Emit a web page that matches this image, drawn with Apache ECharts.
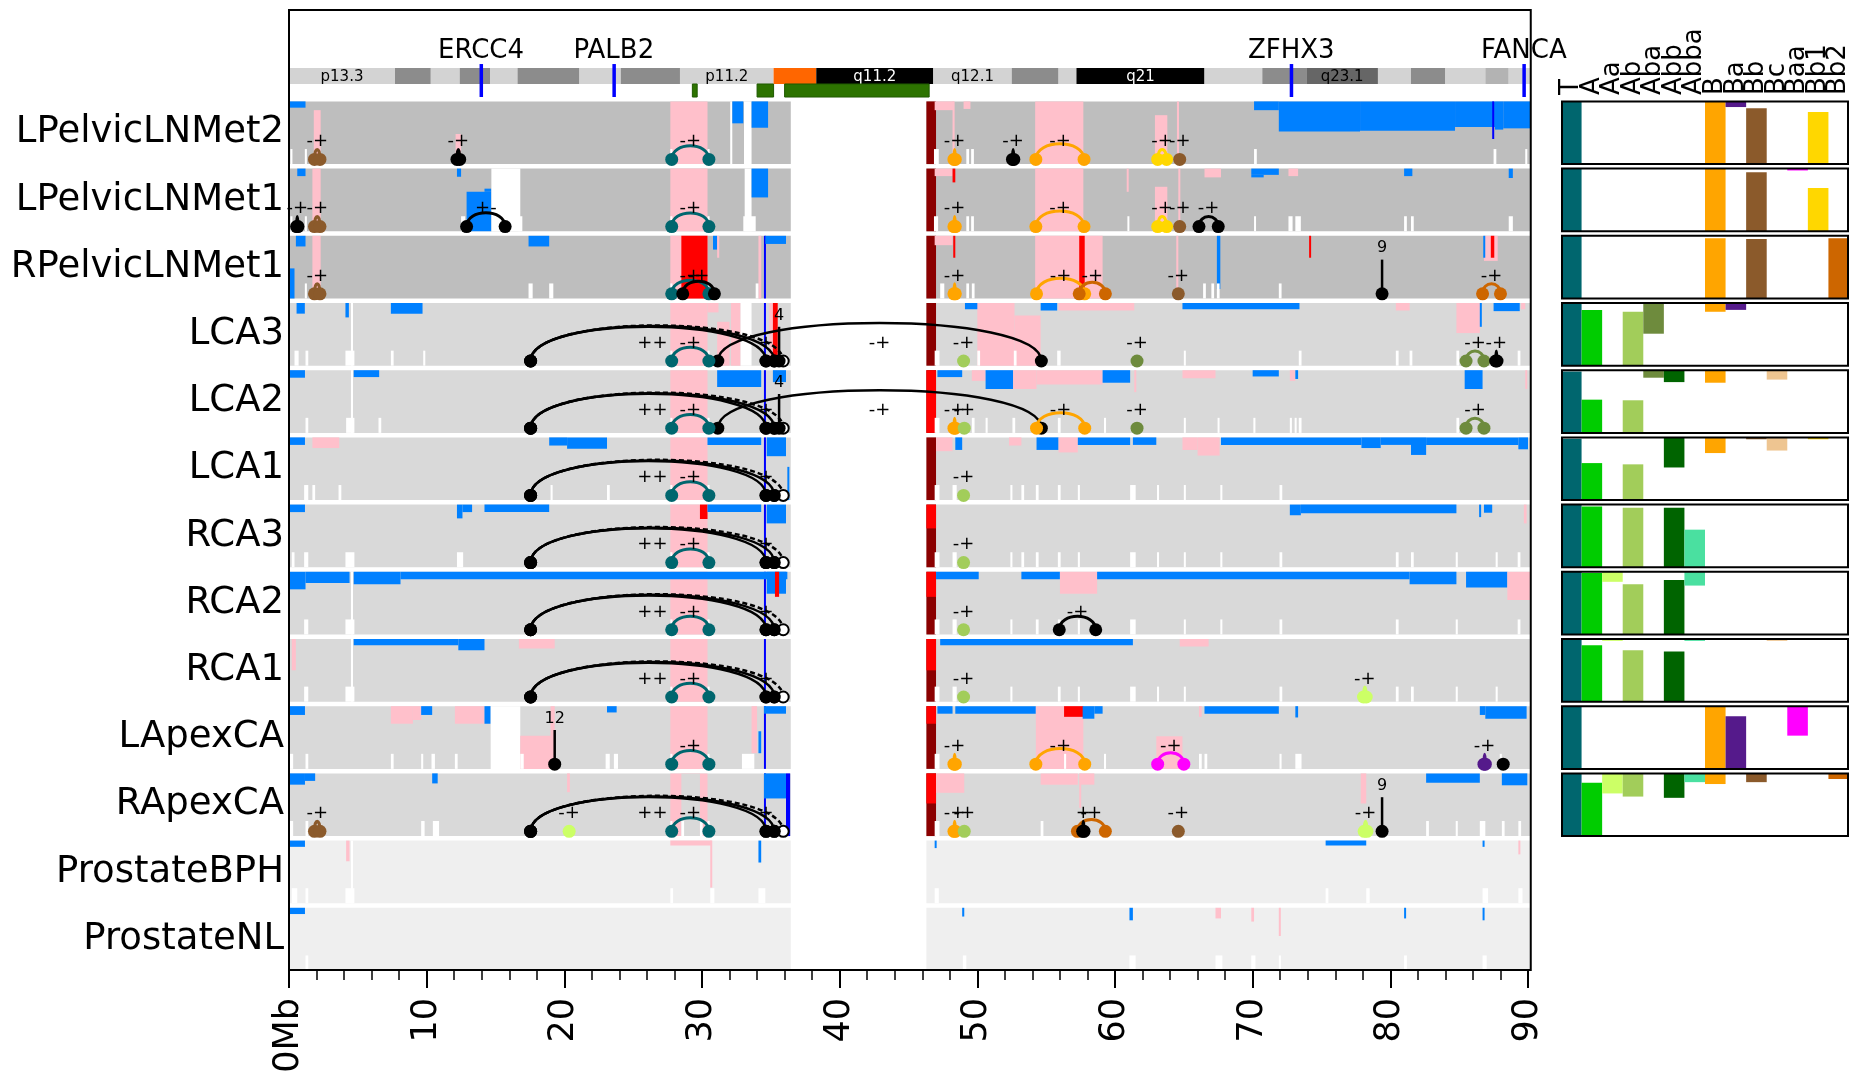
<!DOCTYPE html>
<html><head><meta charset="utf-8">
<script src="https://cdn.jsdelivr.net/npm/echarts/dist/echarts.min.js"></script>
<style>html,body{margin:0;padding:0;background:#fff}#c{width:1850px;height:1080px}</style>
</head><body><div id="c"></div>
<script>
// ---------------- DATA ----------------
const samples = ['LPelvicLNMet2','LPelvicLNMet1','RPelvicLNMet1','LCA3','LCA2','LCA1','RCA3','RCA2','RCA1','LApexCA','RApexCA','ProstateBPH','ProstateNL'];
const xTicks = [0,10,20,30,40,50,60,70,80,90];
// cytobands: [start Mb, end Mb, stain, label]
const chromBands = [
 [0,7.7,'gneg','p13.3'],[7.7,10.3,'gpos50',''],[10.3,12.4,'gneg',''],[12.4,14.6,'gpos50',''],
 [14.6,16.6,'gneg',''],[16.6,21.1,'gpos50',''],[21.1,24.1,'gneg',''],[24.1,28.4,'gpos50',''],
 [28.4,35.2,'gneg','p11.2'],[35.2,38.3,'acen',''],[38.3,46.8,'gvar','q11.2'],[46.8,52.5,'gneg','q12.1'],
 [52.5,55.9,'gpos50',''],[55.9,57.2,'gneg',''],[57.2,66.5,'gpos100','q21'],[66.5,70.7,'gneg',''],
 [70.7,73.9,'gpos50',''],[73.9,79.1,'gpos75','q23.1'],[79.1,81.5,'gneg',''],[81.5,84.0,'gpos50',''],
 [84.0,86.9,'gneg',''],[86.9,88.6,'gpos25',''],[88.6,90.2,'gneg','']
];
const genes = [['ERCC4',13.95],['PALB2',23.6],['ZFHX3',72.8],['FANCA',89.7]];
const greenTracks = [[29.3,29.65],[34.0,35.2],[36.0,46.5]];
const armSpans = [[0,36.45],[46.3,90.2]];
// segments shared by a range of rows: [firstRow,lastRow,start,end,top,bottom,kind]
const sharedSegs = [
 [0,10,27.7,30.4,0,1,'G'],[0,10,46.3,47.0,0,1,'D'],
 [3,4,4.5,4.65,0,1,'W'],[7,8,4.5,4.65,0,1,'W'],[3,10,34.5,34.6,0,1,'B']
];
// copy-number segments: [row,start,end,top,bottom,kind]  L=loss G=gain H=high gain D=deep gain W=no data B=line N=neutral
const segs = [
 [0,0,1.2,0,0.1,'L'],[0,1.8,2.3,0.14,1,'G'],[0,12.1,12.5,0.52,1,'G'],[0,32.05,32.2,0,1,'W'],[0,32.2,33.0,0,0.35,'L'],
 [0,33.05,33.6,0,1,'W'],[0,33.6,34.8,0,0.42,'L'],[0,46.9,48.3,0,0.14,'G'],[0,48.2,48.35,0,1,'G'],[0,49.0,49.5,0,0.12,'G'],
 [0,54.2,57.7,0,1,'G'],[0,62.9,63.8,0.22,1,'G'],[0,64.5,64.65,0,1,'G'],[0,70.1,71.9,0,0.14,'L'],[0,71.9,77.8,0,0.48,'L'],
 [0,77.8,84.7,0,0.47,'L'],[0,84.7,87.6,0,0.41,'L'],[0,87.6,88.2,0,0.45,'L'],[0,88.2,90.2,0,0.43,'L'],[0,87.4,87.45,0,0.6,'B'],
 [1,0.6,1.2,0,0.12,'L'],[1,1.7,2.3,0,1,'G'],[1,12.2,12.5,0,0.13,'L'],[1,12.9,14.7,0.37,1,'L'],[1,14.2,14.7,0.32,0.37,'L'],
 [1,14.7,16.8,0,1,'W'],[1,33.1,33.6,0,1,'W'],[1,33.6,34.8,0,0.46,'L'],[1,46.9,48.2,0,0.12,'G'],[1,48.2,48.4,0,0.22,'H'],
 [1,54.2,57.7,0,1,'G'],[1,60.85,60.95,0,0.37,'G'],[1,62.9,63.8,0.29,1,'G'],[1,64.6,64.7,0,1,'G'],[1,66.5,67.7,0,0.14,'G'],
 [1,69.9,71.9,0,0.1,'L'],[1,69.9,70.8,0.1,0.14,'L'],[1,72.6,73.3,0,0.12,'G'],[1,81.0,81.6,0,0.12,'L'],[1,88.6,88.9,0,0.15,'L'],
 [2,0.05,0.4,0.52,1,'L'],[2,0.5,1.2,0,0.17,'L'],[2,1.7,2.3,0,1,'G'],[2,17.4,18.9,0,0.17,'L'],[2,28.5,30.4,0,1,'H'],
 [2,30.8,31.1,0,0.22,'L'],[2,31.1,31.25,0,0.35,'G'],[2,34.1,34.3,0,1,'G'],[2,34.5,34.6,0,1,'B'],[2,34.6,36.1,0,0.13,'L'],
 [2,46.9,48.2,0,0.15,'G'],[2,48.25,48.4,0,0.35,'H'],[2,54.2,59.1,0,1,'G'],[2,57.4,57.8,0,1,'H'],[2,64.45,64.6,0,1,'G'],
 [2,67.4,67.65,0,0.85,'L'],[2,74.1,74.2,0,0.35,'H'],[2,86.8,87.8,0,0.4,'G'],[2,87.3,87.55,0,0.35,'H'],[2,86.75,86.85,0,0.35,'L'],
 [3,0.55,1.15,0,0.17,'L'],[3,4.1,4.35,0,0.23,'L'],[3,7.4,9.7,0,0.17,'L'],[3,30.4,31.2,0,0.15,'G'],[3,31.1,32.0,0.3,1,'G'],
 [3,32.1,32.8,0,1,'G'],[3,32.8,33.6,0,1,'W'],[3,34.9,35.15,0,1,'G'],[3,35.15,35.5,0,0.85,'H'],[3,49.1,50.1,0,0.1,'L'],
 [3,50.0,52.7,0,1,'G'],[3,52.7,54.6,0.2,1,'G'],[3,54.6,55.8,0,0.12,'L'],[3,55.9,61.4,0,0.12,'G'],[3,64.9,73.4,0,0.1,'L'],
 [3,80.4,81.4,0,0.12,'G'],[3,84.8,86.5,0,0.48,'G'],[3,86.5,86.6,0,0.38,'L'],[3,87.5,89.4,0,0.13,'L'],[3,89.5,89.8,0,0.1,'G'],
 [4,0.07,1.16,0,0.12,'L'],[4,4.7,6.55,0,0.11,'L'],[4,31.1,34.3,0,0.27,'L'],[4,35.15,36.1,0,0.19,'L'],[4,46.3,47.0,0,1,'H'],
 [4,47.1,48.9,0,0.11,'L'],[4,49.6,50.6,0,0.17,'G'],[4,50.6,52.6,0,0.3,'L'],[4,52.6,54.3,0,0.3,'G'],[4,54.3,59.1,0,0.23,'G'],
 [4,59.1,61.1,0,0.2,'L'],[4,61.4,61.5,0,0.35,'G'],[4,64.9,67.3,0,0.13,'G'],[4,70.0,71.9,0,0.1,'L'],[4,72.7,73.1,0,0.17,'G'],
 [4,73.1,73.3,0,0.14,'L'],[4,85.4,86.7,0,0.3,'L'],[4,89.8,89.9,0,0.3,'G'],
 [5,0.07,1.16,0,0.12,'L'],[5,1.7,3.65,0,0.17,'G'],[5,18.9,20.2,0,0.13,'L'],[5,20.2,23.1,0,0.18,'L'],[5,30.4,34.3,0,0.12,'L'],
 [5,34.7,36.1,0,0.3,'L'],[5,36.2,36.3,0.47,1,'L'],[5,47.0,48.2,0,0.22,'G'],[5,48.4,48.9,0,0.2,'L'],[5,52.3,53.2,0,0.13,'G'],
 [5,54.3,55.9,0,0.2,'L'],[5,55.9,57.3,0,0.24,'G'],[5,57.3,61.1,0,0.12,'L'],[5,61.3,63.0,0,0.12,'L'],[5,64.9,66.0,0,0.2,'G'],
 [5,66.0,67.6,0,0.29,'G'],[5,67.7,77.9,0,0.12,'L'],[5,77.9,79.3,0,0.17,'L'],[5,79.3,81.5,0,0.12,'L'],[5,81.5,82.6,0,0.28,'L'],
 [5,82.6,89.3,0,0.12,'L'],[5,89.3,90.0,0,0.19,'L'],
 [6,0.07,1.16,0,0.12,'L'],[6,12.2,12.6,0,0.22,'L'],[6,12.6,13.3,0,0.12,'L'],[6,14.2,18.9,0,0.12,'L'],[6,29.85,30.4,0,0.23,'H'],
 [6,30.4,34.3,0,0.12,'L'],[6,34.7,36.1,0,0.3,'L'],[6,46.3,47.0,0,0.38,'H'],[6,72.7,73.5,0,0.17,'L'],[6,73.5,84.8,0,0.14,'L'],
 [6,86.45,86.55,0,0.2,'L'],[6,86.8,87.4,0,0.13,'L'],[6,89.7,89.9,0,0.3,'G'],
 [7,0.0,1.2,0,0.28,'L'],[7,1.2,4.4,0,0.18,'L'],[7,4.7,8.1,0,0.2,'L'],[7,8.1,36.2,0,0.12,'L'],[7,34.7,36.1,0,0.35,'L'],
 [7,35.3,35.6,0,0.4,'H'],[7,46.3,47.0,0,0.4,'H'],[7,47.0,50.1,0,0.12,'L'],[7,53.2,56.0,0,0.12,'L'],[7,56.0,58.7,0,0.35,'G'],
 [7,58.7,81.4,0,0.12,'L'],[7,81.4,84.8,0,0.2,'L'],[7,85.5,88.5,0,0.25,'L'],[7,88.5,90.2,0,0.45,'G'],
 [8,0.2,0.5,0,0.5,'G'],[8,4.7,12.3,0,0.1,'L'],[8,12.3,14.2,0,0.18,'L'],[8,16.7,19.3,0,0.15,'G'],[8,46.3,47.0,0,0.5,'H'],
 [8,47.3,61.3,0,0.1,'L'],[8,64.7,66.8,0,0.12,'G'],
 [9,0.07,1.16,0,0.14,'L'],[9,7.4,9.0,0,0.28,'G'],[9,9.0,9.6,0,0.22,'G'],[9,9.6,10.4,0,0.14,'L'],[9,12.05,14.2,0,0.28,'G'],
 [9,14.2,14.65,0,0.28,'L'],[9,14.65,16.8,0,1,'W'],[9,16.8,19.1,0.47,1,'G'],[9,19.0,19.3,0,1,'G'],[9,23.1,23.8,0,0.1,'L'],
 [9,33.6,34.0,0,0.75,'G'],[9,34.1,34.3,0.4,0.75,'L'],[9,34.5,36.1,0,0.12,'L'],[9,46.3,47.0,0,0.28,'H'],[9,47.1,48.2,0,0.12,'L'],
 [9,48.4,54.25,0,0.12,'L'],[9,54.25,57.7,0,1,'G'],[9,56.3,57.7,0,0.17,'H'],[9,57.65,58.5,0,0.2,'L'],[9,58.5,59.1,0,0.12,'L'],
 [9,63.0,64.9,0.48,1,'G'],[9,66.1,66.3,0,0.17,'G'],[9,66.5,71.9,0,0.12,'L'],[9,73.1,73.3,0,0.18,'L'],[9,86.5,86.9,0,0.14,'L'],
 [9,86.9,89.9,0,0.2,'L'],
 [10,0.07,1.16,0,0.18,'L'],[10,1.16,1.9,0,0.12,'L'],[10,10.4,10.8,0,0.16,'L'],[10,20.2,20.4,0,0.3,'G'],[10,28.5,29.85,0,1,'N'],
 [10,34.5,36.1,0,0.4,'L'],[10,36.1,36.4,0,1,'B'],[10,46.3,47.0,0,0.48,'H'],[10,47.0,49.05,0,0.31,'G'],[10,54.6,57.3,0,0.18,'G'],
 [10,57.5,58.5,0,0.18,'G'],[10,57.4,57.5,0,0.55,'G'],[10,77.85,78.25,0,0.48,'G'],[10,82.6,86.5,0,0.15,'L'],[10,88.1,89.95,0,0.19,'L'],
 [11,0.07,1.16,0,0.1,'L'],[11,4.15,4.4,0,0.33,'G'],[11,4.5,4.65,0,1,'W'],[11,27.7,30.7,0,0.08,'G'],[11,30.6,30.65,0,0.75,'G'],
 [11,34.1,34.3,0,0.35,'L'],[11,46.9,47.0,0,0.12,'L'],[11,75.3,78.25,0,0.08,'L'],[11,86.7,86.8,0,0.1,'L'],[11,89.3,89.35,0,0.22,'G'],
 [12,0.07,1.16,0,0.1,'L'],[12,48.9,49.05,0,0.14,'L'],[12,61.05,61.3,0,0.2,'L'],[12,67.3,67.7,0,0.17,'G'],[12,69.9,70.1,0,0.22,'G'],
 [12,71.9,71.95,0,0.45,'G'],[12,81.0,81.05,0,0.17,'L'],[12,86.7,86.8,0,0.2,'L']
];
// short no-data marks at the base of each row: [row,start,end]
const noData = [
 [0,0.1,0.25],[0,1.15,1.3],[0,27.7,27.85],[0,30.4,30.55],[0,46.85,47.2],[0,49.2,49.4],[0,49.55,49.75],[0,70.1,70.3],[0,87.5,87.7],[0,89.8,89.95],
 [1,0.1,0.25],[1,1.15,1.3],[1,12.5,12.8],[1,16.65,16.95],[1,27.7,27.85],[1,30.4,30.55],[1,33.0,33.9],[1,46.85,47.15],[1,49.2,49.4],[1,49.55,49.75],
 [1,60.9,61.0],[1,70.1,70.2],[1,72.6,72.9],[1,73.1,73.5],[1,81.0,81.2],[1,81.5,81.7],[1,88.6,88.9],
 [2,1.15,1.3],[2,17.4,17.7],[2,18.9,19.2],[2,27.7,27.85],[2,30.4,30.55],[2,33.9,34.1],[2,47.3,47.6],[2,49.2,49.4],[2,49.6,49.8],
 [2,66.4,66.6],[2,67.0,67.2],[2,67.4,67.6],[2,71.9,72.1],
 [3,0.4,0.7],[3,1.2,1.4],[3,4.1,4.75],[3,7.4,7.6],[3,9.75,9.9],[3,27.7,27.85],[3,30.4,30.55],[3,46.9,47.25],[3,50.0,50.2],[3,52.65,52.85],
 [3,55.8,56.05],[3,65.0,65.1],[3,73.35,73.55],[3,80.4,80.6],[3,81.4,81.6],[3,84.8,85.0],[3,89.25,89.45],
 [4,1.2,1.4],[4,4.15,4.75],[4,6.5,6.7],[4,27.7,27.85],[4,30.4,30.55],[4,46.9,47.25],[4,49.6,49.8],[4,50.6,50.75],[4,52.55,52.75],[4,55.85,56.05],
 [4,59.2,59.35],[4,65.0,65.1],[4,67.45,67.55],[4,70.05,70.2],[4,72.7,72.85],[4,73.05,73.15],[4,73.35,73.55],[4,84.8,85.0],
 [5,1.1,1.4],[5,1.7,1.9],[5,3.6,3.8],[5,19.0,19.15],[5,23.1,23.3],[5,27.7,27.85],[5,30.4,30.55],[5,46.9,47.25],[5,48.2,48.5],[5,52.4,52.55],
 [5,53.2,53.4],[5,54.25,54.45],[5,55.85,56.05],[5,57.3,57.45],[5,61.1,61.5],[5,63.05,63.2],[5,65.0,65.1],[5,67.65,67.8],[5,71.95,72.15],
 [6,0.2,0.4],[6,1.1,1.4],[6,4.1,4.75],[6,12.2,12.65],[6,27.7,27.85],[6,30.4,30.55],[6,46.9,47.25],[6,48.2,48.5],[6,52.4,52.55],[6,53.2,53.4],
 [6,54.25,54.45],[6,55.85,56.05],[6,57.3,57.45],[6,61.1,61.5],[6,63.05,63.2],[6,65.0,65.1],[6,67.65,67.8],[6,71.95,72.15],[6,80.4,80.6],
 [6,81.5,81.7],[6,84.75,84.9],[6,87.65,87.8],[6,89.25,89.45],
 [7,1.1,1.4],[7,4.1,4.75],[7,27.7,27.85],[7,30.4,30.55],[7,46.9,47.25],[7,48.2,48.5],[7,52.4,52.55],[7,54.25,54.45],[7,55.85,56.05],
 [7,57.3,57.45],[7,61.1,61.5],[7,65.0,65.1],[7,67.65,67.8],[7,71.95,72.15],[7,80.4,80.6],[7,84.75,84.9],[7,89.25,89.45],
 [8,1.1,1.4],[8,4.1,4.75],[8,27.7,27.85],[8,30.4,30.55],[8,46.9,47.25],[8,48.2,48.5],[8,52.4,52.55],[8,55.85,56.05],[8,57.3,57.45],
 [8,61.1,61.5],[8,63.05,63.2],[8,65.0,65.1],[8,71.95,72.15],[8,80.4,80.6],[8,81.5,81.7],[8,84.75,84.9],[8,87.65,87.8],
 [9,0.05,0.3],[9,1.2,1.4],[9,7.4,7.6],[9,9.6,9.75],[9,10.35,10.6],[9,12.05,12.25],[9,16.8,17.05],[9,23.0,23.3],[9,23.6,23.9],[9,32.9,33.8],
 [9,27.7,27.85],[9,30.4,30.55],[9,46.9,47.25],[9,56.3,56.45],[9,59.2,59.35],[9,66.1,66.3],[9,66.5,66.7],[9,71.95,72.1],[9,73.1,73.55],[9,87.95,88.1],
 [10,0.05,0.3],[10,1.2,1.4],[10,9.6,9.85],[10,10.45,10.9],[10,28.5,28.7],[10,29.85,30.05],[10,27.7,27.85],[10,30.4,30.55],[10,46.9,47.25],
 [10,54.6,54.8],[10,82.6,82.8],[10,84.75,84.9],[10,86.5,86.9],[10,88.1,88.3],[10,89.3,89.5],
 [11,0.2,0.6],[11,1.2,1.4],[11,4.1,4.75],[11,27.7,27.9],[11,30.6,30.9],[11,34.1,34.6],[11,46.9,47.2],[11,75.3,75.5],[11,78.25,78.5],[11,86.7,87.1],[11,89.3,89.6],
 [12,1.2,1.4],[12,48.95,49.2],[12,61.05,61.5],[12,67.3,67.8],[12,69.9,70.2],[12,71.9,72.05],[12,81.0,81.2],[12,86.7,87.0]
];
// rearrangement arcs: [row,start,end,clone,label,endStyle]
const arcs = [
 [0,1.85,2.25,'Bb','-+'],[0,12.2,12.4,'K','-+'],[0,27.8,30.5,'T','-+'],[0,48.3,48.4,'B','-+'],[0,52.55,52.65,'K','-+'],
 [0,54.25,57.75,'B','-+'],[0,63.1,63.75,'Bb1','-+'],
 [1,0.55,0.65,'K','-+'],[1,1.85,2.25,'Bb','-+'],[1,12.9,15.7,'K','+-'],[1,27.8,30.5,'T','-+'],[1,48.3,48.4,'B','-+'],
 [1,54.25,57.75,'B','-+'],[1,63.1,63.75,'Bb1','-+'],[1,66.1,67.5,'K','-+'],
 [2,1.85,2.25,'Bb','-+'],[2,27.8,30.5,'T','-+'],[2,28.6,30.9,'K','-+'],[2,48.3,48.4,'B','-+'],[2,54.3,57.8,'B','-+'],
 [2,57.4,59.3,'Bb2','-+'],[2,86.7,88.0,'Bb2','-+'],
 [3,17.55,35.25,'K','++'],[3,17.55,34.65,'K',''],[3,17.55,35.9,'K','','o'],[3,31.15,54.65,'K','-+'],[3,27.8,30.5,'T','-+'],
 [3,85.5,86.8,'Aba','-+'],[3,87.65,87.75,'K','-+'],
 [4,17.55,35.25,'K','++'],[4,17.55,34.65,'K',''],[4,17.55,35.9,'K','','o'],[4,31.15,54.65,'K','-+'],[4,27.8,30.5,'T','-+'],
 [4,48.3,48.4,'B','-+'],[4,54.3,57.8,'B','-+'],[4,85.5,86.8,'Aba','-+'],
 [5,17.55,35.25,'K','++'],[5,17.55,34.65,'K',''],[5,17.55,35.9,'K','','o'],[5,27.8,30.5,'T','-+'],
 [6,17.55,35.25,'K','++'],[6,17.55,34.65,'K',''],[6,17.55,35.9,'K','','o'],[6,27.8,30.5,'T','-+'],
 [7,17.55,35.25,'K','++'],[7,17.55,34.65,'K',''],[7,17.55,35.9,'K','','o'],[7,27.8,30.5,'T','-+'],[7,55.95,58.6,'K','-+'],
 [8,17.55,35.25,'K','++'],[8,17.55,34.65,'K',''],[8,17.55,35.9,'K','','o'],[8,27.8,30.5,'T','-+'],[8,78.05,78.25,'Aa','-+'],
 [9,27.8,30.5,'T','-+'],[9,48.3,48.4,'B','-+'],[9,54.25,57.8,'B','-+'],[9,63.1,65.0,'Baa','-+'],[9,86.8,86.9,'Ba','-+'],
 [10,1.85,2.25,'Bb','-+'],[10,17.55,35.25,'K','++'],[10,17.55,34.65,'K',''],[10,17.55,35.9,'K','','o'],[10,27.8,30.5,'T','-+'],
 [10,48.3,48.4,'B','-+'],[10,57.27,59.3,'Bb2','-+'],[10,57.65,57.75,'K','+'],[10,78.1,78.3,'Aa','-+']
];
// single breakpoints: [row,pos,clone,label]
const points = [
 [0,64.7,'Bb','-+'],[1,64.7,'Bb','-+'],[2,64.6,'Bb','-+'],
 [3,34.65,'K','+'],[3,35.25,'K',''],[3,49.0,'Ab','-+'],[3,61.6,'Aba','-+'],
 [4,34.65,'K','+'],[4,35.25,'K',''],[4,49.05,'Ab','-+'],[4,61.6,'Aba','-+'],
 [5,34.65,'K','+'],[5,35.25,'K',''],[5,49.0,'Ab','-+'],
 [6,34.65,'K','+'],[6,35.25,'K',''],[6,49.0,'Ab','-+'],
 [7,34.65,'K','+'],[7,35.25,'K',''],[7,49.0,'Ab','-+'],
 [8,34.65,'K','+'],[8,35.25,'K',''],[8,49.0,'Ab','-+'],
 [9,88.2,'K',''],
 [10,20.35,'Aa','-+'],[10,34.65,'K','+'],[10,35.25,'K',''],[10,49.05,'Ab','-+'],[10,64.6,'Bb','-+']
];
// translocation sticks: [row,pos,partner chromosome]
const sticks = [[2,79.4,'9'],[3,35.6,'4'],[4,35.6,'4'],[9,19.3,'12'],[10,79.4,'9']];
// clone panel
const clones = ['T','A','Aa','Ab','Aba','Abb','Abba','B','Ba','Bb','Bc','Baa','Bb1','Bb2'];
// [row, clone index, low fraction, high fraction]
const cloneBars = [
 [0,0,0,1],[0,7,0,1],[0,8,0.91,1],[0,9,0,0.89],[0,12,0,0.83],
 [1,0,0,1],[1,7,0,1],[1,9,0,0.94],[1,11,0.97,1],[1,12,0,0.69],
 [2,0,0,1],[2,7,0,0.96],[2,9,0,0.95],[2,13,0,0.96],
 [3,0,0,1],[3,1,0,0.89],[3,3,0,0.86],[3,4,0.51,1],[3,7,0.86,1],[3,8,0.89,1],
 [4,0,0,0.98],[4,1,0,0.53],[4,3,0,0.52],[4,4,0.88,1],[4,5,0.81,1],[4,7,0.8,1],[4,10,0.85,1],
 [5,0,0,0.98],[5,1,0,0.59],[5,3,0,0.57],[5,5,0.52,1],[5,7,0.75,1],[5,9,0.97,1],[5,10,0.79,1],[5,12,0.97,1],
 [6,0,0,1],[6,1,0,0.97],[6,3,0,0.95],[6,5,0,0.95],[6,6,0,0.6],
 [7,0,0,1],[7,1,0,0.98],[7,2,0.84,1],[7,3,0,0.8],[7,5,0,0.87],[7,6,0.78,1],
 [8,0,0,1],[8,1,0,0.9],[8,2,0.97,1],[8,3,0,0.82],[8,5,0,0.8],[8,6,0.97,1],[8,10,0.97,1],
 [9,0,0,1],[9,7,0,1],[9,8,0,0.84],[9,11,0.53,1],
 [10,0,0,1],[10,1,0,0.85],[10,2,0.68,1],[10,3,0.63,1],[10,5,0.61,1],[10,6,0.86,1],[10,7,0.83,1],[10,9,0.86,1],[10,13,0.91,1]
];
const cloneRows = 11;

// ---------------- STYLE / LAYOUT ----------------
const FONT = 'DejaVu Sans';
const H = 0.933, DOT = 0.925, LAB = 0.64, TICK = 0.24;
const X_MAX = 90, X_FRAME = 90.2, Y_MIN = -1.375, Y_MAX = 12.926;
const cloneColor = {T:'#00666e',A:'#00cc00',Aa:'#ccff66',Ab:'#a2cd5a',Aba:'#6e8b3d',Abb:'#006400',Abba:'#4ae0a0',
  B:'#ffa500',Ba:'#551a8b',Bb:'#8b5a2b',Bc:'#eec591',Baa:'#ff00ff',Bb1:'#ffd700',Bb2:'#cd6600',K:'#000000'};
const stainColor = {gneg:'#d3d3d3',gpos25:'#b3b3b3',gpos50:'#8c8c8c',gpos75:'#666666',gpos100:'#000000',gvar:'#000000',acen:'#ff6600'};
function rowBg(r){ return r < 3 ? '#bebebe' : (r < 11 ? '#d9d9d9' : '#efefef'); }
const kindColor = {L:'#0080ff',G:'#ffc0cb',H:'#ff0000',D:'#8b0000',W:'#ffffff',B:'#0000ff'};
function colorOf(k, r){ return k === 'N' ? rowBg(r) : kindColor[k]; }

// rectangles list built from data
const rects = [];
samples.forEach((s, r) => armSpans.forEach(([a, b]) => rects.push([a, b, r, 0, 1, 'N'])));
sharedSegs.forEach(([r0, r1, a, b, t, u, k]) => { for (let r = r0; r <= r1; r++) rects.push([a, b, r, t, u, k]); });
segs.forEach(([r, a, b, t, u, k]) => rects.push([a, b, r, t, u, k]));
noData.forEach(([r, a, b]) => rects.push([a, b, r, 1 - TICK, 1, 'W']));

const chart = echarts.init(document.getElementById('c'));
const txt = (text, x, y, size, extra) => ({type:'text', x, y, style:Object.assign({text, x:0, y:0, fill:'#000',
  font: size + 'px "' + FONT + '"', align:'center', verticalAlign:'middle'}, extra || {})});

function renderRect(params, api){
  const d = rects[params.dataIndex];
  const p0 = api.coord([d[0], d[2] + d[3]*H]);
  const p1 = api.coord([d[1], d[2] + d[4]*H]);
  return {type:'rect', shape:{x:p0[0], y:p0[1], width:Math.max(p1[0]-p0[0], 2), height:p1[1]-p0[1]},
    style:{fill:colorOf(d[5], d[2])}};
}
function renderBand(params, api){
  const b = chromBands[params.dataIndex];
  const p0 = api.coord([b[0], -0.497]), p1 = api.coord([b[1], -0.259]);
  const ch = [{type:'rect', shape:{x:p0[0], y:p0[1], width:p1[0]-p0[0], height:p1[1]-p0[1]}, style:{fill:stainColor[b[2]]}}];
  if (b[3]) ch.push(txt(b[3], (p0[0]+p1[0])/2, (p0[1]+p1[1])/2 + 1, 15,
     {fill: (b[2]==='gvar'||b[2]==='gpos100') ? '#fff' : '#000'}));
  return {type:'group', children:ch};
}
function renderGreen(params, api){
  const g = greenTracks[params.dataIndex];
  const p0 = api.coord([g[0], -0.259]), p1 = api.coord([g[1], -0.065]);
  return {type:'rect', shape:{x:p0[0], y:p0[1], width:Math.max(p1[0]-p0[0],3), height:p1[1]-p0[1]},
    style:{fill:'#2d7300', stroke:'#1f5a00', lineWidth:1}};
}
function renderGene(params, api){
  const g = genes[params.dataIndex];
  const p0 = api.coord([g[1], -0.556]), p1 = api.coord([g[1], -0.065]);
  const pl = api.coord([g[1], -0.75]);
  return {type:'group', children:[
    {type:'rect', shape:{x:p0[0]-1.5, y:p0[1], width:3.5, height:p1[1]-p0[1]}, style:{fill:'#0000ff'}},
    txt(g[0], pl[0], pl[1], 26)
  ]};
}
function renderArc(params, api){
  const a = arcs[params.dataIndex];
  const yb = a[0] + DOT*H;
  const p0 = api.coord([a[1], yb]), p1 = api.coord([a[2], yb]);
  const w = a[2]-a[1];
  const h = Math.min(38, Math.max(10, 8.3*Math.sqrt(w)));
  const k = h*4/3;
  const col = cloneColor[a[3]];
  const hollow = a[5] === 'o';
  const ch = [
    {type:'bezierCurve', shape:{x1:p0[0], y1:p0[1], cpx1:p0[0], cpy1:p0[1]-k, cpx2:p1[0], cpy2:p1[1]-k, x2:p1[0], y2:p1[1]},
      style:{stroke:col, fill:null, lineWidth: w > 10 ? 2.5 : 3, lineDash: hollow ? [5,3] : null}},
    {type:'circle', shape:{cx:p0[0], cy:p0[1], r:6.5}, style:{fill:col}},
    {type:'circle', shape:{cx:p1[0], cy:p1[1], r: hollow ? 5.5 : 6.5}, style: hollow ? {fill:'#fff', stroke:col, lineWidth:2} : {fill:col}}
  ];
  if (a[4]) { const pl = api.coord([(a[1]+a[2])/2, a[0] + LAB*H]); ch.push(txt(a[4], pl[0], pl[1], 18)); }
  return {type:'group', children:ch};
}
function renderPoint(params, api){
  const p = points[params.dataIndex];
  const c = api.coord([p[1], p[0] + DOT*H]);
  const ch = [{type:'circle', shape:{cx:c[0], cy:c[1], r:6.5}, style:{fill:cloneColor[p[2]]}}];
  if (p[3]) { const pl = api.coord([p[1], p[0] + LAB*H]); ch.push(txt(p[3], pl[0], pl[1], 18)); }
  return {type:'group', children:ch};
}
function renderStick(params, api){
  const s = sticks[params.dataIndex];
  const top = api.coord([s[1], s[0] + 0.38*H]), bot = api.coord([s[1], s[0] + DOT*H]);
  const lab = api.coord([s[1], s[0] + 0.2*H]);
  return {type:'group', children:[
    {type:'line', shape:{x1:top[0], y1:top[1], x2:bot[0], y2:bot[1]}, style:{stroke:'#000', lineWidth:2.5}},
    {type:'circle', shape:{cx:bot[0], cy:bot[1], r:6.5}, style:{fill:'#000'}},
    txt(s[2], lab[0], lab[1], 16)
  ]};
}
function renderRowLabel(params, api){
  const r = params.dataIndex;
  const c = api.coord([0, r + H/2]);
  return txt(samples[r], c[0]-5, c[1], 37, {align:'right'});
}
function renderFrame(params, api){
  const p0 = api.coord([0, Y_MIN]), p1 = api.coord([X_FRAME, Y_MAX]);
  return {type:'rect', shape:{x:p0[0], y:p0[1]+1, width:p1[0]-p0[0], height:p1[1]-p0[1]-1},
    style:{fill:null, stroke:'#000', lineWidth:2}};
}
function renderCloneBar(params, api){
  const b = cloneBars[params.dataIndex];
  const p0 = api.coord([b[1], b[0] + (1-b[3])*H]), p1 = api.coord([b[1]+1, b[0] + (1-b[2])*H]);
  return {type:'rect', shape:{x:p0[0], y:p0[1], width:p1[0]-p0[0], height:p1[1]-p0[1]}, style:{fill:cloneColor[clones[b[1]]]}};
}
function renderBox(params, api){
  const r = params.dataIndex;
  const p0 = api.coord([0, r]), p1 = api.coord([clones.length, r + H]);
  return {type:'rect', shape:{x:p0[0]+1, y:p0[1], width:p1[0]-p0[0]-2, height:p1[1]-p0[1]},
    style:{fill:null, stroke:'#000', lineWidth:2}};
}
function renderCloneHead(params, api){
  const i = params.dataIndex;
  const c = api.coord([i + 0.5, -0.095]);
  return {type:'text', x:c[0], y:c[1], rotation:Math.PI/2,
    style:{text:clones[i], x:0, y:0, fill:'#000', font:'26px "' + FONT + '"', align:'left', verticalAlign:'middle'}};
}

const M = {xAxisIndex:0, yAxisIndex:0}, R = {xAxisIndex:1, yAxisIndex:1};
function cs(data, render, z, ax){
  return Object.assign({type:'custom', data, renderItem:render, z, silent:true, animation:false, clip:false}, ax);
}
const idx = arr => arr.map((_, i) => [0, 0]);

chart.setOption({
  animation:false,
  backgroundColor:'#ffffff',
  grid:[
    {left:289, top:9, width:1239, height:961, outerBoundsMode:'none', containLabel:false},
    {left:1561, top:9, width:288, height:961, outerBoundsMode:'none', containLabel:false}
  ],
  xAxis:[
    {type:'value', gridIndex:0, min:0, max:X_MAX, interval:10, position:'bottom', z:10,
     axisLine:{show:true, onZero:false, lineStyle:{color:'#000', width:2}},
     axisTick:{show:true, length:18, lineStyle:{color:'#000', width:2}},
     minorTick:{show:true, splitNumber:5, length:10, lineStyle:{color:'#000', width:1.5}},
     splitLine:{show:false}, minorSplitLine:{show:false},
     axisLabel:{rotate:90, margin:28, fontSize:35, fontFamily:FONT, color:'#000',
       formatter: v => xTicks.indexOf(v) < 0 ? '' : (v === 0 ? '0Mb' : String(v))}},
    {type:'value', gridIndex:1, min:0, max:clones.length, show:false}
  ],
  yAxis:[
    {type:'value', gridIndex:0, min:Y_MIN, max:Y_MAX, inverse:true, show:false},
    {type:'value', gridIndex:1, min:Y_MIN, max:Y_MAX, inverse:true, show:false}
  ],
  series:[
    cs(idx(rects), renderRect, 1, M),
    cs(idx(chromBands), renderBand, 2, M),
    cs(idx(greenTracks), renderGreen, 2, M),
    cs(idx(genes), renderGene, 3, M),
    cs(idx(arcs), renderArc, 4, M),
    cs(idx(points), renderPoint, 4, M),
    cs(idx(sticks), renderStick, 4, M),
    cs(idx(samples), renderRowLabel, 5, M),
    cs([[0,0]], renderFrame, 6, M),
    cs(idx(cloneBars), renderCloneBar, 2, R),
    cs(idx(Array.from({length:cloneRows})), renderBox, 3, R),
    cs(idx(clones), renderCloneHead, 3, R)
  ]
});
</script>
</body></html>
